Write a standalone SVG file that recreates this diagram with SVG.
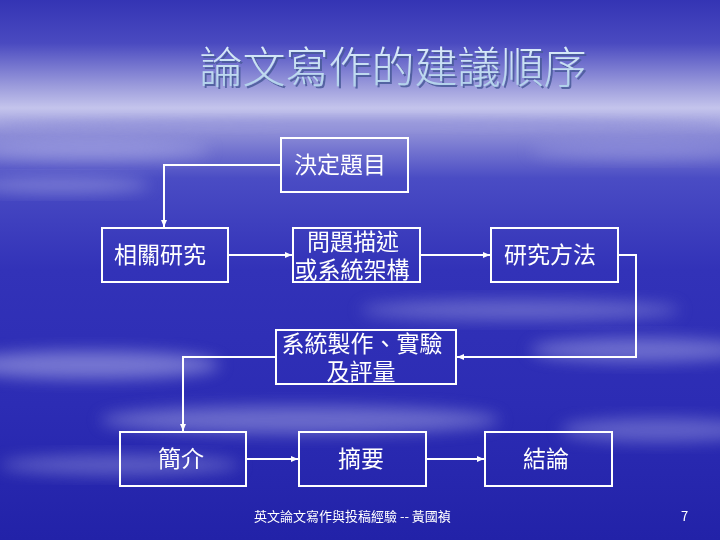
<svg xmlns="http://www.w3.org/2000/svg" width="720" height="540" viewBox="0 0 720 540">
<defs>
<linearGradient id="sky" x1="0" y1="0" x2="0" y2="1">
<stop offset="0" stop-color="#3434b4"/>
<stop offset="0.08" stop-color="#4a4ac0"/>
<stop offset="0.16" stop-color="#9c9cdc"/>
<stop offset="0.2" stop-color="#c4c4ec"/>
<stop offset="0.25" stop-color="#8a8ad6"/>
<stop offset="0.33" stop-color="#4a4cc4"/>
<stop offset="0.5" stop-color="#3232b8"/>
<stop offset="0.75" stop-color="#2c2cb4"/>
<stop offset="1" stop-color="#2222a8"/>
</linearGradient>
<linearGradient id="titleGrad" x1="0" y1="0" x2="0" y2="1">
<stop offset="0" stop-color="#e8f4ff"/>
<stop offset="1" stop-color="#a8cce8"/>
</linearGradient>
<filter id="blur" x="-50%" y="-50%" width="200%" height="200%"><feGaussianBlur stdDeviation="8"/></filter>
<filter id="blur2" x="-50%" y="-50%" width="200%" height="200%"><feGaussianBlur stdDeviation="4"/></filter>
<filter id="shadow" x="-10%" y="-20%" width="120%" height="150%">
<feDropShadow dx="2" dy="2" stdDeviation="0.6" flood-color="#4a5a98" flood-opacity="0.85"/>
</filter>
<marker id="arrow" markerWidth="8" markerHeight="8" refX="7" refY="4" orient="auto" markerUnits="userSpaceOnUse">
<path d="M0,1 L7,4 L0,7 Z" fill="#ffffff"/>
</marker>
<style>
.box { fill: none; stroke: #ffffff; stroke-width: 2; }
.lbl { font-family: "Noto Sans CJK TC", "Noto Sans CJK SC", sans-serif; font-size: 23px; fill: #ffffff; text-anchor: middle; dominant-baseline: central; }
.conn { fill: none; stroke: #ffffff; stroke-width: 2; }
.foot { font-family: "Noto Sans CJK TC", "Liberation Sans", sans-serif; font-size: 13px; fill: #ffffff; }
</style>
</defs>

<rect x="0" y="0" width="720" height="540" fill="url(#sky)"/>
<g id="clouds" opacity="0.55">
<ellipse cx="90" cy="150" rx="120" ry="10" fill="#b0b0e8" filter="url(#blur)"/>
<ellipse cx="60" cy="185" rx="90" ry="8" fill="#a8a8e4" filter="url(#blur)"/>
<ellipse cx="640" cy="150" rx="110" ry="9" fill="#9c9ce0" filter="url(#blur)"/>
<ellipse cx="520" cy="310" rx="160" ry="10" fill="#9494dc" filter="url(#blur)"/>
<ellipse cx="90" cy="365" rx="130" ry="14" fill="#b4b4ea" filter="url(#blur)"/>
<ellipse cx="300" cy="420" rx="200" ry="14" fill="#a0a0e0" filter="url(#blur)"/>
<ellipse cx="640" cy="350" rx="110" ry="12" fill="#a4a4e4" filter="url(#blur)"/>
<ellipse cx="120" cy="465" rx="120" ry="10" fill="#8c8cd8" filter="url(#blur)"/>
<ellipse cx="660" cy="430" rx="100" ry="12" fill="#9090dc" filter="url(#blur)"/>
<ellipse cx="360" cy="125" rx="360" ry="6" fill="#8e8ed8" filter="url(#blur2)"/>
</g>

<g id="title">
<text x="393" y="83" font-family="Noto Sans CJK TC, sans-serif" font-size="43" font-weight="300" fill="url(#titleGrad)" text-anchor="middle" filter="url(#shadow)">論文寫作的建議順序</text>
</g>

<g id="connectors">
<polyline class="conn" points="281,165 164,165 164,227" marker-end="url(#arrow)"/>
<line class="conn" x1="228" y1="255" x2="292" y2="255" marker-end="url(#arrow)"/>
<line class="conn" x1="420" y1="255" x2="490" y2="255" marker-end="url(#arrow)"/>
<polyline class="conn" points="618,255 636,255 636,357 457,357" marker-end="url(#arrow)"/>
<polyline class="conn" points="275,357 183,357 183,431" marker-end="url(#arrow)"/>
<line class="conn" x1="246" y1="459" x2="298" y2="459" marker-end="url(#arrow)"/>
<line class="conn" x1="426" y1="459" x2="484" y2="459" marker-end="url(#arrow)"/>
</g>

<g id="n-decide">
<rect class="box" x="281" y="138" width="127" height="54"/>
<text class="lbl" x="340" y="163">決定題目</text>
</g>
<g id="n-related">
<rect class="box" x="102" y="228" width="126" height="54"/>
<text class="lbl" x="160" y="253">相關研究</text>
</g>
<g id="n-problem">
<rect class="box" x="293" y="228" width="127" height="54"/>
<text class="lbl"><tspan x="353" y="240">問題描述</tspan><tspan x="352" y="268">或系統架構</tspan></text>
</g>
<g id="n-method">
<rect class="box" x="491" y="228" width="127" height="54"/>
<text class="lbl" x="550" y="253">研究方法</text>
</g>
<g id="n-system">
<rect class="box" x="276" y="330" width="180" height="54"/>
<text class="lbl"><tspan x="362" y="342">系統製作、實驗</tspan><tspan x="361" y="370">及評量</tspan></text>
</g>
<g id="n-intro">
<rect class="box" x="120" y="432" width="126" height="54"/>
<text class="lbl" x="181" y="457">簡介</text>
</g>
<g id="n-abstract">
<rect class="box" x="299" y="432" width="127" height="54"/>
<text class="lbl" x="361" y="457">摘要</text>
</g>
<g id="n-conclusion">
<rect class="box" x="485" y="432" width="127" height="54"/>
<text class="lbl" x="546" y="457">結論</text>
</g>

<g id="footer">
<text class="foot" x="254" y="521">英文論文寫作與投稿經驗 -- 黃國禎</text>
<text class="foot" x="681" y="521">7</text>
</g>
</svg>
